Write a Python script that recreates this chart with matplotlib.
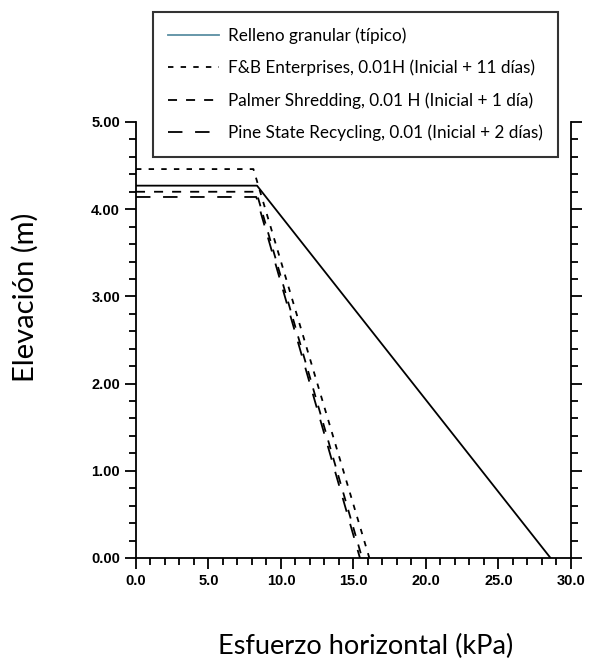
import matplotlib
matplotlib.use('Agg')
import matplotlib.pyplot as plt
from matplotlib.ticker import MultipleLocator

# perfiles de esfuerzo horizontal vs elevacion
relleno_x = [0.0, 8.35, 28.6]
relleno_y = [4.27, 4.27, 0.0]
fb_x = [0.0, 8.1, 16.1]
fb_y = [4.46, 4.46, 0.0]
palmer_x = [0.0, 8.3, 15.6]
palmer_y = [4.20, 4.20, 0.0]
pine_x = [0.0, 8.3, 15.45]
pine_y = [4.14, 4.14, 0.0]

labels = ['Relleno granular (típico)',
          'F&B Enterprises, 0.01H (Inicial + 11 días)',
          'Palmer Shredding, 0.01 H (Inicial + 1 día)',
          'Pine State Recycling, 0.01 (Inicial + 2 días)']

fig = plt.figure(figsize=(5.9, 6.58), dpi=100)
ax = fig.add_axes([0.2305, 0.152, 0.737, 0.6626])

ax.plot(relleno_x, relleno_y, color='black', lw=1.3, label=labels[0])
ax.plot(fb_x, fb_y, color='black', lw=1.3, dashes=(3, 4), label=labels[1])
ax.plot(palmer_x, palmer_y, color='black', lw=1.3, dashes=(5, 5), label=labels[2])
ax.plot(pine_x, pine_y, color='black', lw=1.3, dashes=(8, 7), label=labels[3])

ax.set_xlim(0, 30)
ax.set_ylim(0, 5)
ax.xaxis.set_major_locator(MultipleLocator(5))
ax.xaxis.set_minor_locator(MultipleLocator(1))
ax.yaxis.set_major_locator(MultipleLocator(1))
ax.yaxis.set_minor_locator(MultipleLocator(0.2))
ax.xaxis.set_major_formatter('{x:.1f}')
ax.yaxis.set_major_formatter('{x:.2f}')

ax.spines['top'].set_visible(False)
for s in ['left', 'right', 'bottom']:
    ax.spines[s].set_linewidth(1.3)
ax.tick_params(which='both', direction='out', width=1.3, right=True, top=False)
ax.tick_params(which='major', length=8)
ax.tick_params(which='minor', length=5)
for lab in ax.get_xticklabels() + ax.get_yticklabels():
    lab.set_fontfamily('Liberation Sans')
    lab.set_fontweight('bold')
    lab.set_fontsize(10.5)

ax.set_xlabel('Esfuerzo horizontal (kPa)', family='Lato', fontsize=19.5)
ax.set_ylabel('Elevación (m)', family='Lato', fontsize=21)
ax.xaxis.set_label_coords(0.529, -0.202)
ax.yaxis.set_label_coords(-0.255, 0.599)
ax.xaxis.label.set_va('center')
ax.yaxis.label.set_va('center')

leg = fig.legend(loc='upper left', bbox_to_anchor=(0.259, 0.982), borderaxespad=0,
                 prop={'family': 'Lato', 'size': 12.3},
                 frameon=True, fancybox=False, edgecolor='black',
                 handlelength=3.0, labelspacing=0.93, borderpad=0.9, handletextpad=0.5)
leg.get_frame().set_linewidth(1.5)
leg.get_lines()[0].set_color('#5a8fa3')

fig.savefig('out.png', dpi=100)
